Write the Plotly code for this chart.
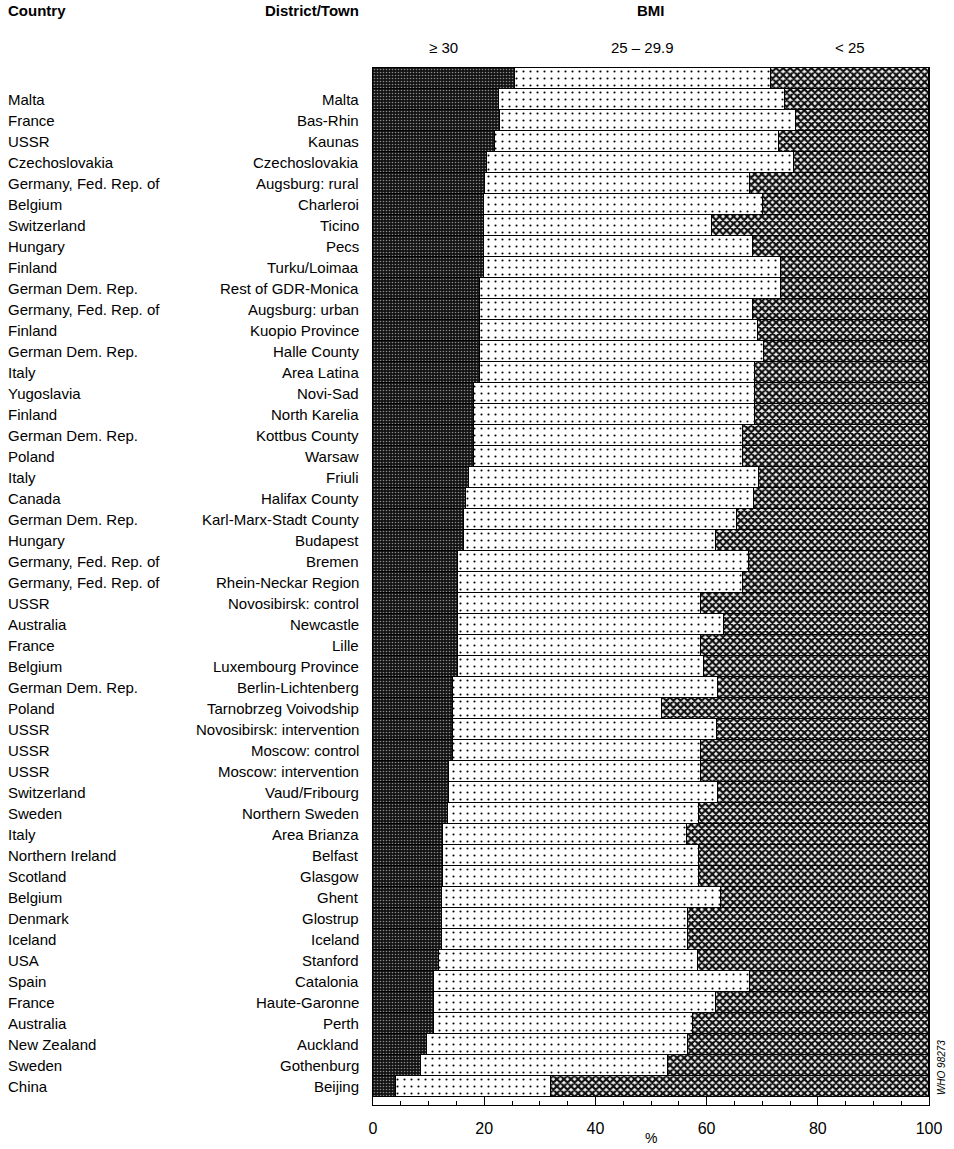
import plotly.graph_objects as go

# ---------------- data ----------------
countries = [
    "Malta", "France", "USSR", "Czechoslovakia", "Germany, Fed. Rep. of", "Belgium",
    "Switzerland", "Hungary", "Finland", "German Dem. Rep.", "Germany, Fed. Rep. of",
    "Finland", "German Dem. Rep.", "Italy", "Yugoslavia", "Finland", "German Dem. Rep.",
    "Poland", "Italy", "Canada", "German Dem. Rep.", "Hungary", "Germany, Fed. Rep. of",
    "Germany, Fed. Rep. of", "USSR", "Australia", "France", "Belgium", "German Dem. Rep.",
    "Poland", "USSR", "USSR", "USSR", "Switzerland", "Sweden", "Italy", "Northern Ireland",
    "Scotland", "Belgium", "Denmark", "Iceland", "USA", "Spain", "France", "Australia",
    "New Zealand", "Sweden", "China",
]
districts = [
    "Malta", "Bas-Rhin", "Kaunas", "Czechoslovakia", "Augsburg: rural", "Charleroi",
    "Ticino", "Pecs", "Turku/Loimaa", "Rest of GDR-Monica", "Augsburg: urban",
    "Kuopio Province", "Halle County", "Area Latina", "Novi-Sad", "North Karelia",
    "Kottbus County", "Warsaw", "Friuli", "Halifax County", "Karl-Marx-Stadt County",
    "Budapest", "Bremen", "Rhein-Neckar Region", "Novosibirsk: control", "Newcastle",
    "Lille", "Luxembourg Province", "Berlin-Lichtenberg", "Tarnobrzeg Voivodship",
    "Novosibirsk: intervention", "Moscow: control", "Moscow: intervention",
    "Vaud/Fribourg", "Northern Sweden", "Area Brianza", "Belfast", "Glasgow", "Ghent",
    "Glostrup", "Iceland", "Stanford", "Catalonia", "Haute-Garonne", "Perth",
    "Auckland", "Gothenburg", "Beijing",
]
# percentages per BMI class
bmi_30_plus = [
    22.6, 22.8, 21.9, 20.5, 20.2, 20.0, 20.0, 20.0, 20.0, 19.2, 19.2, 19.2, 19.2, 19.2,
    18.2, 18.2, 18.2, 18.2, 17.3, 16.8, 16.3, 16.3, 15.3, 15.3, 15.3, 15.3, 15.3, 15.3,
    14.4, 14.4, 14.4, 14.4, 13.6, 13.6, 13.4, 12.5, 12.5, 12.5, 12.4, 12.4, 12.4, 11.9,
    10.9, 10.9, 10.9, 9.8, 8.6, 4.1,
]
bmi_25_29 = [
    51.5, 53.3, 51.1, 55.3, 47.6, 50.2, 40.9, 48.3, 53.4, 54.2, 49.1, 50.0, 51.2, 49.5,
    50.5, 50.5, 48.3, 48.3, 52.1, 51.7, 49.1, 45.4, 52.4, 51.2, 43.7, 47.8, 43.7, 44.2,
    47.6, 37.5, 47.5, 44.6, 45.4, 48.4, 45.2, 43.9, 46.1, 46.1, 50.1, 44.3, 44.3, 46.6,
    56.9, 50.8, 46.7, 46.9, 44.4, 27.9,
]
bmi_under_25 = [
    25.9, 23.9, 27.0, 24.2, 32.2, 29.8, 39.1, 31.7, 26.6, 26.6, 31.7, 30.8, 29.6, 31.3,
    31.3, 31.3, 33.5, 33.5, 30.6, 31.5, 34.6, 38.3, 32.3, 33.5, 41.0, 36.9, 41.0, 40.5,
    38.0, 48.1, 38.1, 41.0, 41.0, 38.0, 41.4, 43.6, 41.4, 41.4, 37.5, 43.3, 43.3, 41.5,
    32.2, 38.3, 42.4, 43.3, 47.0, 68.0,
]
# key bar shown above the data (pattern key under the class headings)
key_labels = ["\u2265 30", "25 \u2013 29.9", "< 25"]
key_values = [25.5, 46.0, 28.5]
x_ticks = [0, 20, 40, 60, 80, 100]

# ---------------- build ----------------
n = len(countries)
rows = list(range(n + 1))          # row 0 = key bar
s1 = [key_values[0]] + bmi_30_plus
s2 = [key_values[1]] + bmi_25_29
s3 = [key_values[2]] + bmi_under_25

FONT = "Liberation Sans, Arial, sans-serif"
line = dict(color="black", width=1)

fig = go.Figure()
fig.add_trace(go.Bar(
    x=s1, y=rows, orientation="h", name=key_labels[0],
    marker=dict(color="#121212", line=line,
                pattern=dict(shape=".", fgcolor="#8a8a8a", bgcolor="#121212",
                             size=3, solidity=0.22, fillmode="replace")),
))
fig.add_trace(go.Bar(
    x=s2, y=rows, orientation="h", name=key_labels[1],
    marker=dict(color="white", line=line,
                pattern=dict(shape=".", fgcolor="black", bgcolor="white",
                             size=7, solidity=0.07, fillmode="replace")),
))
fig.add_trace(go.Bar(
    x=s3, y=rows, orientation="h", name=key_labels[2],
    marker=dict(color="#444", line=line,
                pattern=dict(shape="x", fgcolor="#101010", bgcolor="#f4f4f4",
                             size=5, solidity=0.68, fillmode="replace")),
))

W = 560.0
annotations = []
lab_font = dict(family=FONT, size=15, color="black")
x_country = (3 - 373) / W
x_district = (361 - 373) / W
for i in range(n):
    annotations.append(dict(text=countries[i], x=x_country, xref="paper", y=i + 1, yref="y",
                            xanchor="left", yanchor="middle", showarrow=False, font=lab_font))
    annotations.append(dict(text=districts[i], x=x_district, xref="paper", y=i + 1, yref="y",
                            xanchor="right", yanchor="middle", showarrow=False, font=lab_font))

hdr_font = dict(family=FONT, size=15, color="black")
hdr_y = (1110 - 10) / 1042
annotations += [
    dict(text="<b>Country</b>", x=x_country, xref="paper", y=hdr_y, yref="paper",
         xanchor="left", yanchor="middle", showarrow=False, font=hdr_font),
    dict(text="<b>District/Town</b>", x=x_district, xref="paper", y=hdr_y, yref="paper",
         xanchor="right", yanchor="middle", showarrow=False, font=hdr_font),
    dict(text="<b>BMI</b>", x=0.5, xref="paper", y=hdr_y, yref="paper",
         xanchor="center", yanchor="middle", showarrow=False, font=hdr_font),
]
cum = 0
for lab, v in zip(key_labels, key_values):
    annotations.append(dict(text=lab, x=cum + v / 2, xref="x", y=(1110 - 47) / 1042,
                            yref="paper", xanchor="center", yanchor="middle", showarrow=False,
                            font=dict(family=FONT, size=15, color="black")))
    cum += v
annotations.append(dict(text="%", x=0.5, xref="paper", y=-(1133 - 1110) / 1042, yref="paper",
                        xanchor="center", yanchor="top", showarrow=False,
                        font=dict(family=FONT, size=14, color="black")))
annotations.append(dict(text="<i>WHO 98273</i>", x=(945 - 373) / W, xref="paper",
                        y=(1110 - 1072) / 1042, yref="paper",
                        xanchor="center", yanchor="middle", textangle=-90, showarrow=False,
                        font=dict(family=FONT, size=10, color="black")))

fig.update_layout(
    width=954, height=1149,
    margin=dict(l=373, r=21, t=68, b=39),
    barmode="stack", bargap=0,
    showlegend=False,
    plot_bgcolor="white", paper_bgcolor="white",
    annotations=annotations,
    font=dict(family=FONT, color="black"),
)
fig.update_xaxes(
    range=[0, 100], tickvals=x_ticks, ticks="inside", ticklen=8, tickcolor="black",
    minor=dict(dtick=5, ticks="inside", ticklen=4, tickcolor="black"),
    showline=True, linecolor="black", linewidth=1, mirror=True,
    showgrid=False, zeroline=False, tickfont=dict(family=FONT, size=16),
    ticklabelstandoff=9,
)
fig.update_yaxes(
    range=[n + 0.5 + 0.38, -0.5], showticklabels=False, ticks="",
    showline=True, linecolor="black", linewidth=1, mirror=True,
    showgrid=False, zeroline=False,
)

fig.write_html("out.html")
